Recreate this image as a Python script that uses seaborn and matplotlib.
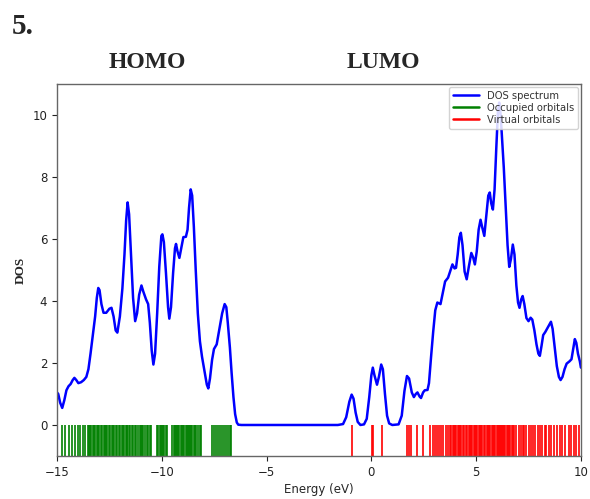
import matplotlib
matplotlib.use("Agg")
import matplotlib.pyplot as plt
from matplotlib.lines import Line2D
import seaborn as sns
import pandas as pd

# DOS curve (energy in eV, DOS)
dos_energy = [
    -15.0, -14.94, -14.85, -14.75, -14.65, -14.55, -14.45, -14.35, -14.25, -14.17,
    -14.08, -13.98, -13.85, -13.72, -13.6, -13.5, -13.4, -13.3, -13.18, -13.1,
    -13.03, -12.97, -12.88, -12.78, -12.65, -12.5, -12.4, -12.3, -12.2, -12.12,
    -12.0, -11.88, -11.78, -11.7, -11.63, -11.56, -11.47, -11.37, -11.27, -11.18,
    -11.08, -10.97, -10.88, -10.75, -10.65, -10.57, -10.48, -10.4, -10.32, -10.22,
    -10.12, -10.02, -9.97, -9.9, -9.8, -9.7, -9.64, -9.56, -9.46, -9.37,
    -9.32, -9.25, -9.16, -9.06, -8.97, -8.85, -8.77, -8.7, -8.62, -8.55,
    -8.47, -8.38, -8.28, -8.18, -8.08, -7.95, -7.85, -7.78, -7.7, -7.6,
    -7.51, -7.38, -7.25, -7.12, -7.0, -6.92, -6.85, -6.75, -6.67, -6.58,
    -6.5, -6.42, -6.35, -6.2, -1.6, -1.35, -1.2, -1.05, -0.94, -0.85,
    -0.75, -0.65, -0.52, -0.35, -0.22, -0.1, 0.0, 0.07, 0.15, 0.27,
    0.36, 0.47, 0.55, 0.65, 0.75, 0.85, 1.0, 1.3, 1.45, 1.58,
    1.7, 1.8, 1.93, 2.03, 2.12, 2.2, 2.3, 2.37, 2.47, 2.55,
    2.68, 2.75, 2.85, 2.95, 3.05, 3.15, 3.3, 3.42, 3.52, 3.66,
    3.78, 3.87, 3.97, 4.04, 4.12, 4.2, 4.27, 4.35, 4.45, 4.55,
    4.65, 4.77, 4.86, 4.94, 5.03, 5.12, 5.21, 5.3, 5.39, 5.48,
    5.58, 5.65, 5.72, 5.8, 5.88, 5.96, 6.04, 6.1, 6.17, 6.24,
    6.32, 6.42, 6.5, 6.58, 6.66, 6.75, 6.83, 6.92, 7.0, 7.07,
    7.15, 7.22, 7.3, 7.4, 7.5, 7.6, 7.68, 7.78, 7.88, 7.97,
    8.04, 8.12, 8.2, 8.3, 8.42, 8.57, 8.65, 8.75, 8.85, 8.95,
    9.03, 9.12, 9.22, 9.32, 9.45, 9.55, 9.63, 9.71, 9.78, 9.86,
    9.95, 10.0,
]
dos_value = [
    1.05, 1.0, 0.72, 0.55, 0.8, 1.12, 1.25, 1.32, 1.45, 1.52,
    1.45, 1.35, 1.38, 1.45, 1.55, 1.8, 2.3, 2.85, 3.5, 4.1,
    4.42, 4.35, 3.9, 3.62, 3.62, 3.75, 3.78, 3.5, 3.05, 2.98,
    3.5, 4.4, 5.5, 6.6, 7.18, 6.8, 5.5, 4.1, 3.35, 3.6,
    4.2, 4.5, 4.3, 4.05, 3.9, 3.3, 2.4, 1.95, 2.3, 3.6,
    5.1, 6.1, 6.15, 5.9, 4.9, 3.8, 3.43, 3.8, 4.9, 5.7,
    5.84, 5.6, 5.39, 5.75, 6.06, 6.07, 6.3, 7.0, 7.6, 7.4,
    6.4, 5.0, 3.6, 2.7, 2.2, 1.7, 1.3, 1.18, 1.5, 2.1,
    2.45, 2.6, 3.1, 3.6, 3.9, 3.8, 3.3, 2.5, 1.7, 0.9,
    0.35, 0.08, 0.01, 0.0, 0.0, 0.03, 0.25, 0.75, 0.98, 0.85,
    0.4, 0.1, 0.0, 0.02, 0.2, 0.9, 1.6, 1.85, 1.6, 1.3,
    1.55, 1.95, 1.8, 1.0, 0.3, 0.05, 0.0, 0.02, 0.3, 1.1,
    1.58, 1.5, 1.05, 0.9, 1.0, 1.05, 0.92, 0.87, 1.05, 1.12,
    1.13, 1.35, 2.2, 3.0, 3.7, 3.95, 3.9, 4.3, 4.63, 4.75,
    5.0, 5.18, 5.05, 5.07, 5.5, 6.05, 6.2, 5.8, 4.95, 4.7,
    5.1, 5.55, 5.4, 5.18, 5.6, 6.3, 6.62, 6.35, 6.1, 6.7,
    7.4, 7.5, 7.15, 6.95, 7.6, 8.9, 10.1, 10.4, 10.0, 9.2,
    8.3, 6.9, 5.8, 5.1, 5.35, 5.82, 5.5, 4.5, 3.95, 3.78,
    4.05, 4.16, 3.9, 3.45, 3.35, 3.46, 3.4, 3.05, 2.6, 2.3,
    2.23, 2.55, 2.9, 3.0, 3.15, 3.33, 3.1, 2.5, 1.9, 1.55,
    1.45, 1.55, 1.8, 1.98, 2.05, 2.12, 2.45, 2.77, 2.65, 2.3,
    2.05, 1.85,
]

occupied_orbitals = [
    -14.78, -14.6, -14.45, -14.3, -14.15, -14.02, -13.88, -13.76, -13.66,
    -13.52, -13.47, -13.42, -13.36, -13.3, -13.24, -13.18, -13.1, -13.04, -12.98,
    -12.92, -12.86, -12.78, -12.72, -12.66, -12.6, -12.52, -12.46, -12.38, -12.32,
    -12.26, -12.18, -12.12, -12.04, -11.98, -11.9, -11.84, -11.78, -11.72, -11.68,
    -11.64, -11.58, -11.52, -11.44, -11.36, -11.3, -11.22, -11.14, -11.06, -11.0,
    -10.94, -10.88, -10.8, -10.72, -10.64, -10.58, -10.52,
    -10.22, -10.16, -10.1, -10.04, -9.99, -9.94, -9.88, -9.82, -9.76,
    -9.5, -9.44, -9.38, -9.33, -9.28, -9.22, -9.16, -9.1, -9.04, -8.98,
    -8.92, -8.86, -8.8, -8.75, -8.7, -8.64, -8.59, -8.54, -8.48, -8.42,
    -8.36, -8.28, -8.2, -8.12,
    -7.6, -7.52, -7.42, -7.32, -7.22, -7.12, -7.02, -6.94, -6.86, -6.76, -6.68,
]
virtual_orbitals = [
    -0.94, 0.02, 0.07, 0.49, 1.68, 1.79, 1.9, 2.16, 2.48, 2.8,
    2.92, 3.02, 3.14, 3.22, 3.3, 3.42, 3.55, 3.65, 3.75,
    3.82, 3.88, 3.94, 4.0, 4.06, 4.12, 4.18, 4.24, 4.3, 4.36,
    4.42, 4.52, 4.58, 4.64, 4.7, 4.76, 4.82, 4.88, 4.94, 5.0,
    5.06, 5.12, 5.18, 5.24, 5.3, 5.38, 5.44, 5.5, 5.56, 5.62,
    5.68, 5.74, 5.8, 5.86, 5.92, 5.98, 6.03, 6.08, 6.12, 6.17,
    6.22, 6.28, 6.34, 6.4, 6.46, 6.52, 6.58, 6.64, 6.7, 6.76,
    6.82, 6.88,
    7.05, 7.15, 7.22, 7.3, 7.4, 7.52, 7.62, 7.7, 7.82, 7.95,
    8.05, 8.15, 8.28, 8.35, 8.5, 8.58, 8.7, 8.85, 9.0, 9.1,
    9.25, 9.42, 9.55, 9.65, 9.78, 9.9,
]

x_ticks = [-15, -10, -5, 0, 5, 10]
y_ticks = [0, 2, 4, 6, 8, 10]
legend_labels = ["DOS spectrum", "Occupied orbitals", "Virtual orbitals"]

sns.set_style("ticks")
plt.rcParams["font.family"] = ["DejaVu Sans"]

fig = plt.figure(figsize=(5.9, 4.99), dpi=100)
ax = fig.add_axes([0.0966, 0.0862, 0.888, 0.7455])

df = pd.DataFrame({"Energy": dos_energy, "DOS": dos_value})
sns.lineplot(data=df, x="Energy", y="DOS", ax=ax, color="blue", linewidth=1.8,
             sort=False, estimator=None)

sns.rugplot(x=occupied_orbitals, ax=ax, height=1 / 12, color="green",
            linewidth=1.2, expand_margins=False)
sns.rugplot(x=virtual_orbitals, ax=ax, height=1 / 12, color="red",
            linewidth=1.2, expand_margins=False)

ax.set_xlim(-15, 10)
ax.set_ylim(-1, 11)
ax.set_xticks(x_ticks)
ax.set_yticks(y_ticks)
ax.tick_params(labelsize=8.5, length=3.5, width=0.8, colors="#222222")
for s in ax.spines.values():
    s.set_color("#666666")
    s.set_linewidth(1.0)

ax.set_xlabel("Energy (eV)", fontsize=8.5, labelpad=3)
ax.set_ylabel("DOS", fontsize=9.5, fontweight="bold",
              family=["Liberation Serif", "DejaVu Serif"], labelpad=4)

handles = [Line2D([], [], color=c, linewidth=1.8) for c in ["blue", "green", "red"]]
leg = ax.legend(handles, legend_labels, loc="upper right", fontsize=7.2,
                frameon=True, framealpha=0.85, borderaxespad=0.3,
                handlelength=2.6, labelspacing=0.2)
for t in leg.get_texts():
    t.set_color("#333333")

serif = ["Liberation Serif", "DejaVu Serif"]
fig.text(12 / 590, 1 - 27 / 499, "5.", fontsize=21, fontweight="bold",
         family=serif, ha="left", va="center")
fig.text(147 / 590, 1 - 63 / 499, "HOMO", fontsize=17, fontweight="bold",
         family=serif, ha="center", va="center")
fig.text(383 / 590, 1 - 63 / 499, "LUMO", fontsize=17, fontweight="bold",
         family=serif, ha="center", va="center")

fig.savefig("out.png", dpi=100)
